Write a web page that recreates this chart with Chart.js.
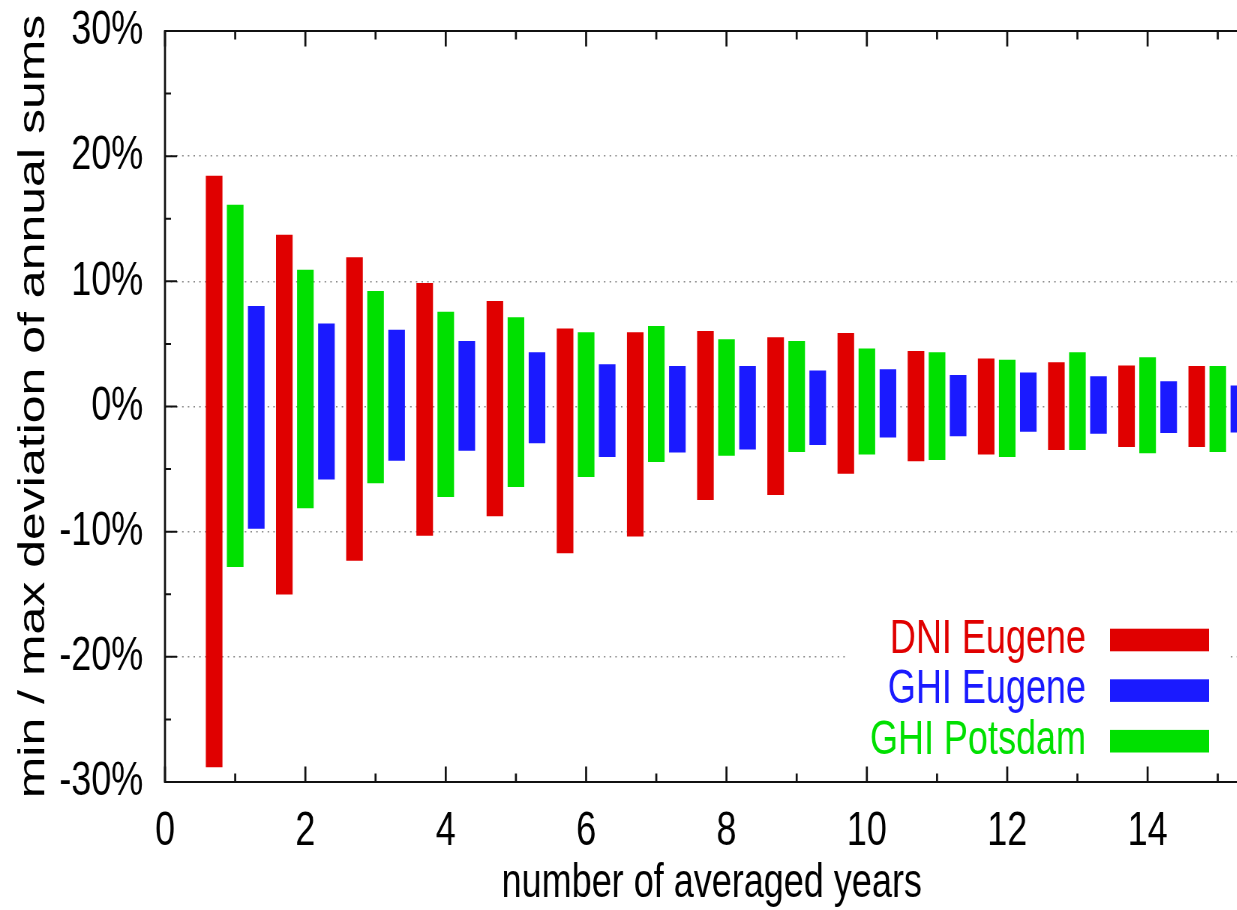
<!DOCTYPE html>
<html>
<head>
<meta charset="utf-8">
<script src="https://cdn.jsdelivr.net/npm/chart.js@4"></script>
<style>
  html, body { margin: 0; padding: 0; background: #fff; overflow: hidden; }
  #wrap { width: 1237px; height: 910px; overflow: hidden; position: relative; background: #fff; }
  /* the reference is a horizontally squeezed plot, so the canvas is squeezed the same way */
  #chart { display: block; transform: scaleX(0.75); transform-origin: 0 0; }
</style>
</head>
<body>
<div id="wrap"><canvas id="chart" width="1700" height="910"></canvas></div>
<script>
const years = [1, 2, 3, 4, 5, 6, 7, 8, 9, 10, 11, 12, 13, 14, 15];

const dniEugeneMax = [18.4, 13.7, 11.9, 9.85, 8.4, 6.2, 5.9, 6.0, 5.5, 5.85, 4.4, 3.8, 3.5, 3.25, 3.2];
const dniEugeneMin = [-28.8, -15.0, -12.3, -10.3, -8.75, -11.7, -10.35, -7.45, -7.05, -5.35, -4.35, -3.8, -3.45, -3.2, -3.2];
const ghiEugeneMax = [8.0, 6.6, 6.1, 5.2, 4.3, 3.35, 3.2, 3.2, 2.85, 2.95, 2.5, 2.7, 2.4, 2.0, 1.65];
const ghiEugeneMin = [-9.75, -5.8, -4.3, -3.5, -2.9, -4.0, -3.65, -3.4, -3.05, -2.45, -2.35, -2.0, -2.15, -2.1, -2.05];
const ghiPotsdamMax = [16.1, 10.9, 9.2, 7.55, 7.1, 5.9, 6.4, 5.35, 5.2, 4.6, 4.3, 3.7, 4.3, 3.9, 3.2];
const ghiPotsdamMin = [-12.8, -8.1, -6.1, -7.2, -6.4, -5.6, -4.4, -3.9, -3.6, -3.8, -4.25, -4.0, -3.45, -3.7, -3.6];

const yTicks = [-30, -20, -10, 0, 10, 20, 30];
const xTickLabels = [0, 2, 4, 6, 8, 10, 12, 14];

const FONT = '"Liberation Sans", Arial, Helvetica, sans-serif';

function ranges(mins, maxs, shift) {
    return years.map((n, i) => ({ x: n + shift, y: [mins[i], maxs[i]] }));
}

function makeSet(label, color, mins, maxs, shift) {
    return {
        label: label,
        data: ranges(mins, maxs, shift),
        backgroundColor: color,
        borderWidth: 0,
        barThickness: 21.5,
        grouped: false
    };
}

// gnuplot style key: right aligned text, then a coloured sample, on a white box
const keyBox = {
    id: 'keyBox',
    afterDatasetsDraw(chart) {
        const ctx = chart.ctx;
        ctx.save();
        ctx.fillStyle = '#fff';
        ctx.fillRect(1128, 612, 512, 156);
        ctx.font = '48px ' + FONT;
        ctx.textAlign = 'right';
        ctx.textBaseline = 'middle';
        chart.data.datasets.forEach((ds, i) => {
            const cy = 640 + i * 50.6;
            ctx.fillStyle = ds.backgroundColor;
            ctx.fillText(ds.label, 1448, cy - 0.5);
            ctx.fillRect(1480, cy - 11.3, 132, 22.6);
        });
        ctx.restore();
    }
};

// border and inward ticks on all four sides
const frameTicks = {
    id: 'frameTicks',
    afterDraw(chart) {
        const ctx = chart.ctx;
        const a = chart.chartArea;
        const xs = chart.scales.x;
        const ys = chart.scales.y;
        ctx.save();
        ctx.strokeStyle = '#111';

        ctx.lineWidth = 2.7;
        xs.ticks.forEach(t => {
            const px = xs.getPixelForValue(t.value);
            const len = t.value % 2 === 0 ? 15.5 : 8.5;
            ctx.beginPath();
            ctx.moveTo(px, a.bottom);
            ctx.lineTo(px, a.bottom - len);
            ctx.moveTo(px, a.top);
            ctx.lineTo(px, a.top + len);
            ctx.stroke();
        });

        ctx.lineWidth = 2;
        ys.ticks.forEach(t => {
            const py = ys.getPixelForValue(t.value);
            const len = t.value % 10 === 0 ? 16 : 8;
            ctx.beginPath();
            ctx.moveTo(a.left, py);
            ctx.lineTo(a.left + len, py);
            ctx.moveTo(a.right, py);
            ctx.lineTo(a.right - len, py);
            ctx.stroke();
        });

        ctx.lineWidth = 2.2;
        ctx.beginPath();
        ctx.moveTo(a.left, a.top);
        ctx.lineTo(a.right, a.top);
        ctx.moveTo(a.left, a.bottom);
        ctx.lineTo(a.right, a.bottom);
        ctx.stroke();
        ctx.lineWidth = 2.7;
        ctx.beginPath();
        ctx.moveTo(a.left, a.top - 1.1);
        ctx.lineTo(a.left, a.bottom + 1.1);
        ctx.moveTo(a.right, a.top - 1.1);
        ctx.lineTo(a.right, a.bottom + 1.1);
        ctx.stroke();
        ctx.restore();
    }
};

new Chart(document.getElementById('chart'), {
    type: 'bar',
    data: {
        datasets: [
            makeSet('DNI Eugene', '#e00000', dniEugeneMin, dniEugeneMax, -0.3),
            makeSet('GHI Eugene', '#1a1aff', ghiEugeneMin, ghiEugeneMax, 0.3),
            makeSet('GHI Potsdam', '#00e000', ghiPotsdamMin, ghiPotsdamMax, 0)
        ]
    },
    options: {
        responsive: false,
        animation: false,
        devicePixelRatio: 1,
        layout: { padding: { top: 31, right: 22, bottom: 0, left: 0 } },
        plugins: {
            legend: { display: false },
            tooltip: { enabled: false }
        },
        scales: {
            x: {
                type: 'linear',
                offset: false,
                min: 0,
                max: 15.58,
                grid: { display: false, drawTicks: false, offset: false },
                border: { display: false },
                ticks: {
                    stepSize: 1,
                    includeBounds: false,
                    autoSkip: false,
                    maxRotation: 0,
                    padding: 26,
                    color: '#000',
                    font: { family: FONT, size: 48, lineHeight: 1 },
                    callback: v => xTickLabels.includes(v) ? String(v) : ''
                },
                title: {
                    display: true,
                    text: 'number of averaged years',
                    color: '#000',
                    font: { family: FONT, size: 48, lineHeight: 1 },
                    padding: { top: 0, bottom: 2 }
                },
                afterFit: s => {
                    s.height = 128;
                    s.paddingLeft = 0;
                    s.paddingRight = 0;
                }
            },
            y: {
                min: -30,
                max: 30,
                grid: {
                    drawTicks: false,
                    lineWidth: 1.5,
                    color: c => (c.tick && Math.abs(c.tick.value) < 30 && c.tick.value % 10 === 0) ? '#8a8a8a' : 'rgba(0,0,0,0)'
                },
                border: { display: false, dash: [2, 5.6] },
                ticks: {
                    stepSize: 5,
                    padding: 29,
                    color: '#000',
                    font: { family: FONT, size: 48, lineHeight: 1 },
                    callback: v => yTicks.includes(v) ? v + '%' : ''
                },
                title: {
                    display: true,
                    text: 'min / max deviation of annual sums',
                    color: '#000',
                    font: { family: FONT, size: 50, lineHeight: 1 },
                    padding: { top: 20.4, bottom: 0 }
                },
                afterFit: s => {
                    s.width = 220;
                    s.paddingTop = 0;
                    s.paddingBottom = 0;
                }
            }
        }
    },
    plugins: [keyBox, frameTicks]
});
</script>
</body>
</html>
